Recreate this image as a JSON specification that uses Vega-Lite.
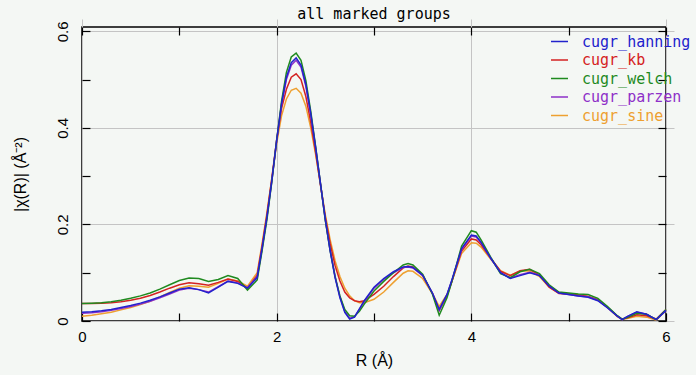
{
  "$schema": "https://vega.github.io/schema/vega-lite/v6.json",
  "width": 584,
  "height": 294,
  "autosize": "none",
  "padding": {"left": 82, "top": 27, "right": 30, "bottom": 54},
  "background": "#f4f7f4",
  "title": {"text": "all marked groups", "font": "DejaVu Sans Mono", "fontSize": 15, "fontWeight": "normal", "color": "#000000", "anchor": "middle", "offset": 4, "dy": 5},
  "config": {
    "view": {"stroke": "#000000", "strokeWidth": 1.5},
    "axis": {"domain": false, "ticks": true, "offset": -8, "tickColor": "#000000", "tickSize": 8, "tickWidth": 1.2, "gridColor": "#c4c4c4", "gridWidth": 1, "labelFont": "Liberation Sans", "labelFontSize": 15, "labelColor": "#000000", "titleFont": "Liberation Sans", "titleFontSize": 16, "titleFontWeight": "normal", "titleColor": "#000000", "labelFlush": false, "labelOverlap": false}
  },
  "data": {"values": [
    {"R": 0.0, "cugr_hanning": 0.018, "cugr_kb": 0.036, "cugr_welch": 0.036, "cugr_parzen": 0.016, "cugr_sine": 0.010},
    {"R": 0.1, "cugr_hanning": 0.019, "cugr_kb": 0.036, "cugr_welch": 0.037, "cugr_parzen": 0.017, "cugr_sine": 0.012},
    {"R": 0.2, "cugr_hanning": 0.021, "cugr_kb": 0.037, "cugr_welch": 0.038, "cugr_parzen": 0.019, "cugr_sine": 0.015},
    {"R": 0.3, "cugr_hanning": 0.024, "cugr_kb": 0.038, "cugr_welch": 0.040, "cugr_parzen": 0.022, "cugr_sine": 0.018},
    {"R": 0.4, "cugr_hanning": 0.028, "cugr_kb": 0.040, "cugr_welch": 0.043, "cugr_parzen": 0.026, "cugr_sine": 0.023},
    {"R": 0.5, "cugr_hanning": 0.032, "cugr_kb": 0.043, "cugr_welch": 0.047, "cugr_parzen": 0.030, "cugr_sine": 0.028},
    {"R": 0.6, "cugr_hanning": 0.037, "cugr_kb": 0.047, "cugr_welch": 0.052, "cugr_parzen": 0.035, "cugr_sine": 0.034},
    {"R": 0.7, "cugr_hanning": 0.043, "cugr_kb": 0.053, "cugr_welch": 0.058, "cugr_parzen": 0.041, "cugr_sine": 0.041},
    {"R": 0.8, "cugr_hanning": 0.050, "cugr_kb": 0.060, "cugr_welch": 0.066, "cugr_parzen": 0.048, "cugr_sine": 0.050},
    {"R": 0.9, "cugr_hanning": 0.058, "cugr_kb": 0.068, "cugr_welch": 0.075, "cugr_parzen": 0.056, "cugr_sine": 0.059},
    {"R": 1.0, "cugr_hanning": 0.066, "cugr_kb": 0.075, "cugr_welch": 0.084, "cugr_parzen": 0.064, "cugr_sine": 0.068},
    {"R": 1.1, "cugr_hanning": 0.069, "cugr_kb": 0.079, "cugr_welch": 0.089, "cugr_parzen": 0.068, "cugr_sine": 0.073},
    {"R": 1.2, "cugr_hanning": 0.065, "cugr_kb": 0.077, "cugr_welch": 0.088, "cugr_parzen": 0.065, "cugr_sine": 0.072},
    {"R": 1.3, "cugr_hanning": 0.058, "cugr_kb": 0.074, "cugr_welch": 0.082, "cugr_parzen": 0.060, "cugr_sine": 0.070},
    {"R": 1.4, "cugr_hanning": 0.070, "cugr_kb": 0.080, "cugr_welch": 0.086, "cugr_parzen": 0.071, "cugr_sine": 0.078},
    {"R": 1.5, "cugr_hanning": 0.082, "cugr_kb": 0.087, "cugr_welch": 0.094, "cugr_parzen": 0.083, "cugr_sine": 0.087},
    {"R": 1.6, "cugr_hanning": 0.078, "cugr_kb": 0.082, "cugr_welch": 0.088, "cugr_parzen": 0.079, "cugr_sine": 0.083},
    {"R": 1.7, "cugr_hanning": 0.068, "cugr_kb": 0.068, "cugr_welch": 0.064, "cugr_parzen": 0.069, "cugr_sine": 0.072},
    {"R": 1.8, "cugr_hanning": 0.090, "cugr_kb": 0.095, "cugr_welch": 0.085, "cugr_parzen": 0.092, "cugr_sine": 0.100},
    {"R": 1.85, "cugr_hanning": 0.150, "cugr_kb": 0.155, "cugr_welch": 0.145, "cugr_parzen": 0.150, "cugr_sine": 0.160},
    {"R": 1.9, "cugr_hanning": 0.215, "cugr_kb": 0.220, "cugr_welch": 0.210, "cugr_parzen": 0.215, "cugr_sine": 0.225},
    {"R": 1.95, "cugr_hanning": 0.290, "cugr_kb": 0.295, "cugr_welch": 0.288, "cugr_parzen": 0.290, "cugr_sine": 0.295},
    {"R": 2.0, "cugr_hanning": 0.375, "cugr_kb": 0.375, "cugr_welch": 0.375, "cugr_parzen": 0.372, "cugr_sine": 0.368},
    {"R": 2.05, "cugr_hanning": 0.450, "cugr_kb": 0.440, "cugr_welch": 0.455, "cugr_parzen": 0.447, "cugr_sine": 0.425},
    {"R": 2.1, "cugr_hanning": 0.505, "cugr_kb": 0.480, "cugr_welch": 0.515, "cugr_parzen": 0.500, "cugr_sine": 0.460},
    {"R": 2.15, "cugr_hanning": 0.535, "cugr_kb": 0.505, "cugr_welch": 0.547, "cugr_parzen": 0.530, "cugr_sine": 0.478},
    {"R": 2.2, "cugr_hanning": 0.545, "cugr_kb": 0.512, "cugr_welch": 0.555, "cugr_parzen": 0.540, "cugr_sine": 0.482},
    {"R": 2.25, "cugr_hanning": 0.530, "cugr_kb": 0.500, "cugr_welch": 0.540, "cugr_parzen": 0.526, "cugr_sine": 0.472},
    {"R": 2.3, "cugr_hanning": 0.490, "cugr_kb": 0.465, "cugr_welch": 0.498, "cugr_parzen": 0.486, "cugr_sine": 0.445},
    {"R": 2.35, "cugr_hanning": 0.430, "cugr_kb": 0.412, "cugr_welch": 0.435, "cugr_parzen": 0.427, "cugr_sine": 0.400},
    {"R": 2.4, "cugr_hanning": 0.360, "cugr_kb": 0.350, "cugr_welch": 0.362, "cugr_parzen": 0.358, "cugr_sine": 0.345},
    {"R": 2.45, "cugr_hanning": 0.285, "cugr_kb": 0.282, "cugr_welch": 0.285, "cugr_parzen": 0.284, "cugr_sine": 0.283},
    {"R": 2.5, "cugr_hanning": 0.210, "cugr_kb": 0.215, "cugr_welch": 0.208, "cugr_parzen": 0.210, "cugr_sine": 0.220},
    {"R": 2.55, "cugr_hanning": 0.145, "cugr_kb": 0.160, "cugr_welch": 0.145, "cugr_parzen": 0.147, "cugr_sine": 0.168},
    {"R": 2.6, "cugr_hanning": 0.090, "cugr_kb": 0.115, "cugr_welch": 0.092, "cugr_parzen": 0.093, "cugr_sine": 0.125},
    {"R": 2.65, "cugr_hanning": 0.048, "cugr_kb": 0.083, "cugr_welch": 0.052, "cugr_parzen": 0.050, "cugr_sine": 0.092},
    {"R": 2.7, "cugr_hanning": 0.018, "cugr_kb": 0.060, "cugr_welch": 0.024, "cugr_parzen": 0.020, "cugr_sine": 0.068},
    {"R": 2.75, "cugr_hanning": 0.004, "cugr_kb": 0.048, "cugr_welch": 0.011, "cugr_parzen": 0.006, "cugr_sine": 0.052},
    {"R": 2.8, "cugr_hanning": 0.008, "cugr_kb": 0.042, "cugr_welch": 0.010, "cugr_parzen": 0.009, "cugr_sine": 0.042},
    {"R": 2.85, "cugr_hanning": 0.025, "cugr_kb": 0.040, "cugr_welch": 0.020, "cugr_parzen": 0.024, "cugr_sine": 0.038},
    {"R": 2.9, "cugr_hanning": 0.042, "cugr_kb": 0.042, "cugr_welch": 0.035, "cugr_parzen": 0.040, "cugr_sine": 0.038},
    {"R": 3.0, "cugr_hanning": 0.070, "cugr_kb": 0.055, "cugr_welch": 0.062, "cugr_parzen": 0.068, "cugr_sine": 0.045},
    {"R": 3.1, "cugr_hanning": 0.088, "cugr_kb": 0.072, "cugr_welch": 0.082, "cugr_parzen": 0.086, "cugr_sine": 0.060},
    {"R": 3.2, "cugr_hanning": 0.102, "cugr_kb": 0.092, "cugr_welch": 0.100, "cugr_parzen": 0.100, "cugr_sine": 0.080},
    {"R": 3.3, "cugr_hanning": 0.112, "cugr_kb": 0.110, "cugr_welch": 0.116, "cugr_parzen": 0.111, "cugr_sine": 0.099},
    {"R": 3.35, "cugr_hanning": 0.113, "cugr_kb": 0.114, "cugr_welch": 0.119, "cugr_parzen": 0.112, "cugr_sine": 0.104},
    {"R": 3.4, "cugr_hanning": 0.111, "cugr_kb": 0.112, "cugr_welch": 0.116, "cugr_parzen": 0.110, "cugr_sine": 0.103},
    {"R": 3.5, "cugr_hanning": 0.095, "cugr_kb": 0.095, "cugr_welch": 0.097, "cugr_parzen": 0.094, "cugr_sine": 0.088},
    {"R": 3.6, "cugr_hanning": 0.058, "cugr_kb": 0.057, "cugr_welch": 0.056, "cugr_parzen": 0.058, "cugr_sine": 0.057},
    {"R": 3.67, "cugr_hanning": 0.024, "cugr_kb": 0.022, "cugr_welch": 0.012, "cugr_parzen": 0.022, "cugr_sine": 0.030},
    {"R": 3.75, "cugr_hanning": 0.055, "cugr_kb": 0.052, "cugr_welch": 0.048, "cugr_parzen": 0.054, "cugr_sine": 0.055},
    {"R": 3.8, "cugr_hanning": 0.085, "cugr_kb": 0.082, "cugr_welch": 0.082, "cugr_parzen": 0.084, "cugr_sine": 0.082},
    {"R": 3.9, "cugr_hanning": 0.150, "cugr_kb": 0.145, "cugr_welch": 0.155, "cugr_parzen": 0.148, "cugr_sine": 0.140},
    {"R": 4.0, "cugr_hanning": 0.178, "cugr_kb": 0.170, "cugr_welch": 0.187, "cugr_parzen": 0.176, "cugr_sine": 0.162},
    {"R": 4.05, "cugr_hanning": 0.176, "cugr_kb": 0.168, "cugr_welch": 0.184, "cugr_parzen": 0.174, "cugr_sine": 0.161},
    {"R": 4.1, "cugr_hanning": 0.163, "cugr_kb": 0.158, "cugr_welch": 0.168, "cugr_parzen": 0.162, "cugr_sine": 0.153},
    {"R": 4.2, "cugr_hanning": 0.130, "cugr_kb": 0.130, "cugr_welch": 0.132, "cugr_parzen": 0.130, "cugr_sine": 0.128},
    {"R": 4.3, "cugr_hanning": 0.100, "cugr_kb": 0.103, "cugr_welch": 0.098, "cugr_parzen": 0.100, "cugr_sine": 0.104},
    {"R": 4.4, "cugr_hanning": 0.088, "cugr_kb": 0.094, "cugr_welch": 0.090, "cugr_parzen": 0.089, "cugr_sine": 0.095},
    {"R": 4.5, "cugr_hanning": 0.094, "cugr_kb": 0.104, "cugr_welch": 0.102, "cugr_parzen": 0.096, "cugr_sine": 0.103},
    {"R": 4.6, "cugr_hanning": 0.100, "cugr_kb": 0.107, "cugr_welch": 0.107, "cugr_parzen": 0.101, "cugr_sine": 0.104},
    {"R": 4.7, "cugr_hanning": 0.094, "cugr_kb": 0.095, "cugr_welch": 0.098, "cugr_parzen": 0.095, "cugr_sine": 0.092},
    {"R": 4.8, "cugr_hanning": 0.072, "cugr_kb": 0.070, "cugr_welch": 0.075, "cugr_parzen": 0.073, "cugr_sine": 0.070},
    {"R": 4.9, "cugr_hanning": 0.058, "cugr_kb": 0.057, "cugr_welch": 0.060, "cugr_parzen": 0.058, "cugr_sine": 0.058},
    {"R": 5.0, "cugr_hanning": 0.055, "cugr_kb": 0.056, "cugr_welch": 0.058, "cugr_parzen": 0.055, "cugr_sine": 0.056},
    {"R": 5.1, "cugr_hanning": 0.052, "cugr_kb": 0.054, "cugr_welch": 0.056, "cugr_parzen": 0.052, "cugr_sine": 0.054},
    {"R": 5.2, "cugr_hanning": 0.049, "cugr_kb": 0.051, "cugr_welch": 0.055, "cugr_parzen": 0.050, "cugr_sine": 0.051},
    {"R": 5.3, "cugr_hanning": 0.042, "cugr_kb": 0.044, "cugr_welch": 0.047, "cugr_parzen": 0.043, "cugr_sine": 0.044},
    {"R": 5.4, "cugr_hanning": 0.027, "cugr_kb": 0.028, "cugr_welch": 0.030, "cugr_parzen": 0.028, "cugr_sine": 0.028},
    {"R": 5.5, "cugr_hanning": 0.010, "cugr_kb": 0.010, "cugr_welch": 0.011, "cugr_parzen": 0.010, "cugr_sine": 0.009},
    {"R": 5.55, "cugr_hanning": 0.003, "cugr_kb": 0.004, "cugr_welch": 0.004, "cugr_parzen": 0.003, "cugr_sine": 0.003},
    {"R": 5.6, "cugr_hanning": 0.009, "cugr_kb": 0.006, "cugr_welch": 0.007, "cugr_parzen": 0.009, "cugr_sine": 0.005},
    {"R": 5.7, "cugr_hanning": 0.019, "cugr_kb": 0.013, "cugr_welch": 0.016, "cugr_parzen": 0.018, "cugr_sine": 0.010},
    {"R": 5.8, "cugr_hanning": 0.014, "cugr_kb": 0.011, "cugr_welch": 0.014, "cugr_parzen": 0.014, "cugr_sine": 0.008},
    {"R": 5.9, "cugr_hanning": 0.003, "cugr_kb": 0.004, "cugr_welch": 0.003, "cugr_parzen": 0.003, "cugr_sine": 0.002},
    {"R": 6.0, "cugr_hanning": 0.022, "cugr_kb": 0.024, "cugr_welch": 0.024, "cugr_parzen": 0.022, "cugr_sine": 0.022}
  ]},
  "transform": [
    {"fold": ["cugr_sine", "cugr_kb", "cugr_parzen", "cugr_welch", "cugr_hanning"], "as": ["group", "chi"]}
  ],
  "layer": [
    {
      "mark": {"type": "line", "strokeWidth": 1.5},
      "encoding": {
        "x": {"field": "R", "type": "quantitative", "scale": {"domain": [0, 6], "nice": false, "zero": false},
          "axis": {"orient": "bottom", "title": "R (Å)", "values": [0, 1, 2, 3, 4, 5, 6], "labelExpr": "datum.value % 2 == 0 ? datum.label : ''", "grid": true, "gridOpacity": {"condition": {"test": "datum.value % 2 == 0", "value": 1}, "value": 0}, "labelPadding": 8, "titlePadding": 8}},
        "y": {"field": "chi", "type": "quantitative", "scale": {"domain": [0, 0.609], "nice": false},
          "axis": {"orient": "left", "title": "|χ(R)| (Å⁻²)", "values": [0, 0.1, 0.2, 0.3, 0.4, 0.5, 0.6], "labelExpr": "round(datum.value * 10) % 2 == 0 ? datum.label : ''", "format": "g", "grid": true, "gridOpacity": {"condition": {"test": "round(datum.value * 10) % 2 == 0", "value": 1}, "value": 0}, "labelAngle": 270, "labelAlign": "center", "labelBaseline": "bottom", "labelPadding": 12, "titlePadding": 27}},
        "color": {"field": "group", "type": "nominal",
          "scale": {"domain": ["cugr_hanning", "cugr_kb", "cugr_welch", "cugr_parzen", "cugr_sine"], "range": ["#2222cc", "#d42222", "#1f8a1f", "#8e30c8", "#eea030"]},
          "legend": {"orient": "none", "legendX": 468, "legendY": 5, "title": null, "padding": 0, "symbolType": "stroke", "symbolSize": 289, "symbolStrokeWidth": 1.5, "labelFont": "DejaVu Sans Mono", "labelFontSize": 15, "labelOffset": 13, "rowPadding": 0.5, "labelLimit": 300,
            "encoding": {"labels": {"fill": {"condition": [
              {"test": "datum.value == 'cugr_hanning'", "value": "#2222cc"},
              {"test": "datum.value == 'cugr_kb'", "value": "#d42222"},
              {"test": "datum.value == 'cugr_welch'", "value": "#1f8a1f"},
              {"test": "datum.value == 'cugr_parzen'", "value": "#8e30c8"}
            ], "value": "#eea030"}}}}
        }
      }
    },
    {
      "mark": {"type": "point", "opacity": 0},
      "encoding": {
        "x": {"field": "R", "type": "quantitative", "axis": {"orient": "top", "title": null, "labels": false, "grid": false, "values": [0, 1, 2, 3, 4, 5, 6]}},
        "y": {"field": "chi", "type": "quantitative", "axis": {"orient": "right", "title": null, "labels": false, "grid": false, "values": [0, 0.1, 0.2, 0.3, 0.4, 0.5, 0.6]}}
      }
    }
  ],
  "resolve": {"axis": {"x": "independent", "y": "independent"}}
}
